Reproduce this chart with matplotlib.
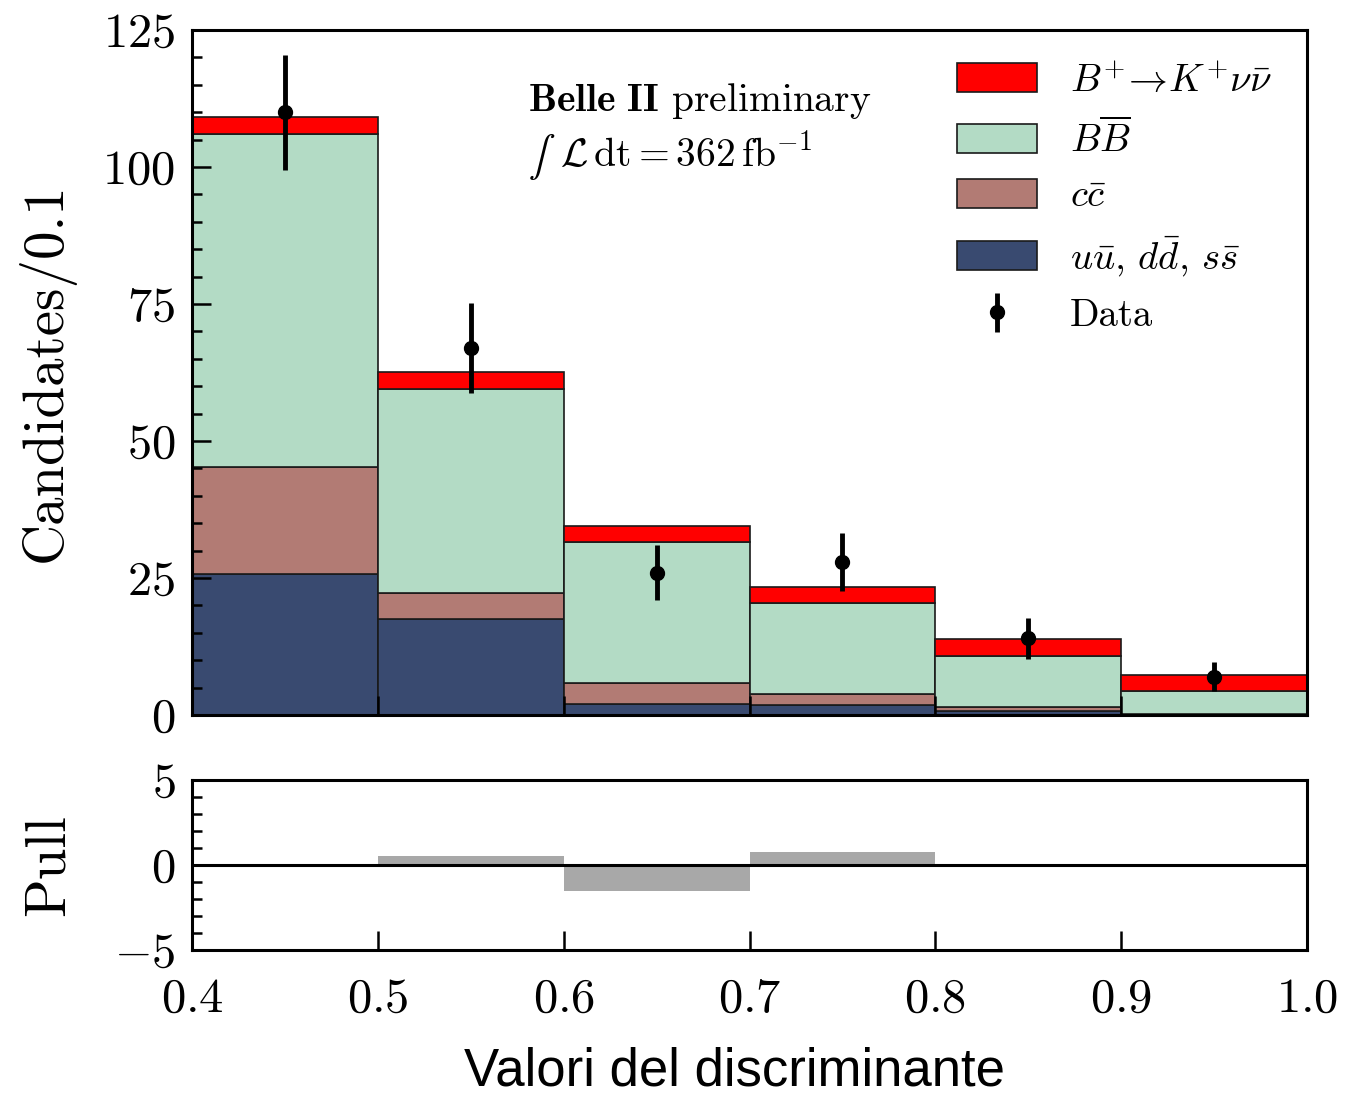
import numpy as np
import matplotlib
matplotlib.use("Agg")
import matplotlib.pyplot as plt
from matplotlib.ticker import MultipleLocator

plt.rcParams.update({
    "font.family": "serif",
    "font.serif": ["cmr10"],
    "mathtext.fontset": "cm",
    "axes.formatter.use_mathtext": True,
    "axes.unicode_minus": True,
})

# Binning of the classifier output
bin_edges = [0.4, 0.5, 0.6, 0.7, 0.8, 0.9, 1.0]

# Expected yields per bin, stacked from the bottom up
uds = [25.7, 17.5, 1.95, 1.8, 0.7, 0.05]
ccbar = [19.6, 4.7, 3.85, 2.1, 0.7, 0.05]
bbbar = [60.8, 37.3, 25.7, 16.6, 9.4, 4.3]
signal = [3.0, 3.0, 3.0, 2.9, 3.0, 2.9]

# Observed candidates and their uncertainties
data = [110, 67, 26, 28, 14, 7]
data_err = [10.5, 8.2, 5.1, 5.3, 3.7, 2.6]

# Pull per bin
pull = [0.0, 0.5, -1.55, 0.78, 0.0, 0.0]

labels = [r"$B^{+}\!\rightarrow\!K^{+}\nu\bar{\nu}$", r"$B\overline{B}$",
          r"$c\bar{c}$", r"$u\bar{u},\, d\bar{d},\, s\bar{s}$"]
colors = ["#ff0000", "#b3dbc5", "#b27b74", "#394a70"]

edges = np.array(bin_edges)
centers = 0.5 * (edges[:-1] + edges[1:])
widths = np.diff(edges)

fig = plt.figure(figsize=(13.45, 10.97), dpi=100)
ax = fig.add_axes([0.1428, 0.3482, 0.8290, 0.6245])
axp = fig.add_axes([0.1428, 0.134, 0.8290, 0.155])

# stacked histogram drawn as bars
components = [uds, ccbar, bbbar, signal]
comp_colors = colors[::-1]
comp_labels = labels[::-1]
bottom = np.zeros(len(centers))
handles = {}
for vals, c, lab in zip(components, comp_colors, comp_labels):
    h = ax.bar(centers, vals, width=widths, bottom=bottom, color=c,
               edgecolor="#1a1a1a", linewidth=1.2, label=lab)
    handles[lab] = h
    bottom = bottom + np.array(vals)

eb = ax.errorbar(centers, data, yerr=data_err, fmt="o", color="black",
                 markersize=10, elinewidth=3.5, capsize=0, label="Data", zorder=5)

leg_handles = [handles[l] for l in labels] + [eb]
ax.legend(leg_handles, labels + ["Data"], loc="upper left",
          bbox_to_anchor=(0.686, 0.952), frameon=False, fontsize=28,
          handlelength=2.06, handleheight=0.77, handletextpad=0.85,
          labelspacing=0.5, borderpad=0, borderaxespad=0)

ax.text(0.301, 0.896, r"$\mathbf{Belle\ II}$ preliminary", transform=ax.transAxes,
        fontsize=28.5, va="center", ha="left")
integ = ax.text(0.301, 0.815, r"$\int$", transform=ax.transAxes,
                fontsize=28.5, va="center", ha="left", math_fontfamily="stix")
ax.annotate(r"$\,\mathcal{L}\,\mathrm{dt} = 362\,\mathrm{fb}^{-1}$",
            xy=(1, 0.55), xycoords=integ, fontsize=28.5, va="center", ha="left")

ax.set_xlim(0.4, 1.0)
ax.set_ylim(0, 125)
ax.yaxis.set_major_locator(MultipleLocator(25))
ax.yaxis.set_minor_locator(MultipleLocator(5))
ax.xaxis.set_major_locator(MultipleLocator(0.1))
ax.tick_params(labelbottom=False)
ax.set_ylabel("Candidates/0.1", fontsize=41)

# pull panel
axp.bar(centers, pull, width=widths, color="#a8a8a8", linewidth=0)
axp.axhline(0, color="black", linewidth=2.2)
axp.set_xlim(0.4, 1.0)
axp.set_ylim(-5, 5)
axp.set_yticks([-5, 0, 5])
axp.yaxis.set_minor_locator(MultipleLocator(1))
axp.xaxis.set_major_locator(MultipleLocator(0.1))
axp.set_ylabel("Pull", fontsize=41)

for a in (ax, axp):
    a.tick_params(which="both", direction="in", top=False, right=False,
                  labelsize=35, width=1.8, pad=12)
    a.tick_params(which="major", length=14)
    a.tick_params(which="minor", length=7)
    for s in a.spines.values():
        s.set_linewidth(2.2)
    a.yaxis.set_label_coords(-0.105, 0.5)

axp.tick_params(axis="x", pad=20)

fig.text(0.546, 0.023, "Valori del discriminante", family="Liberation Sans",
         fontsize=38, ha="center", va="center")

fig.savefig("out.png", dpi=100)
